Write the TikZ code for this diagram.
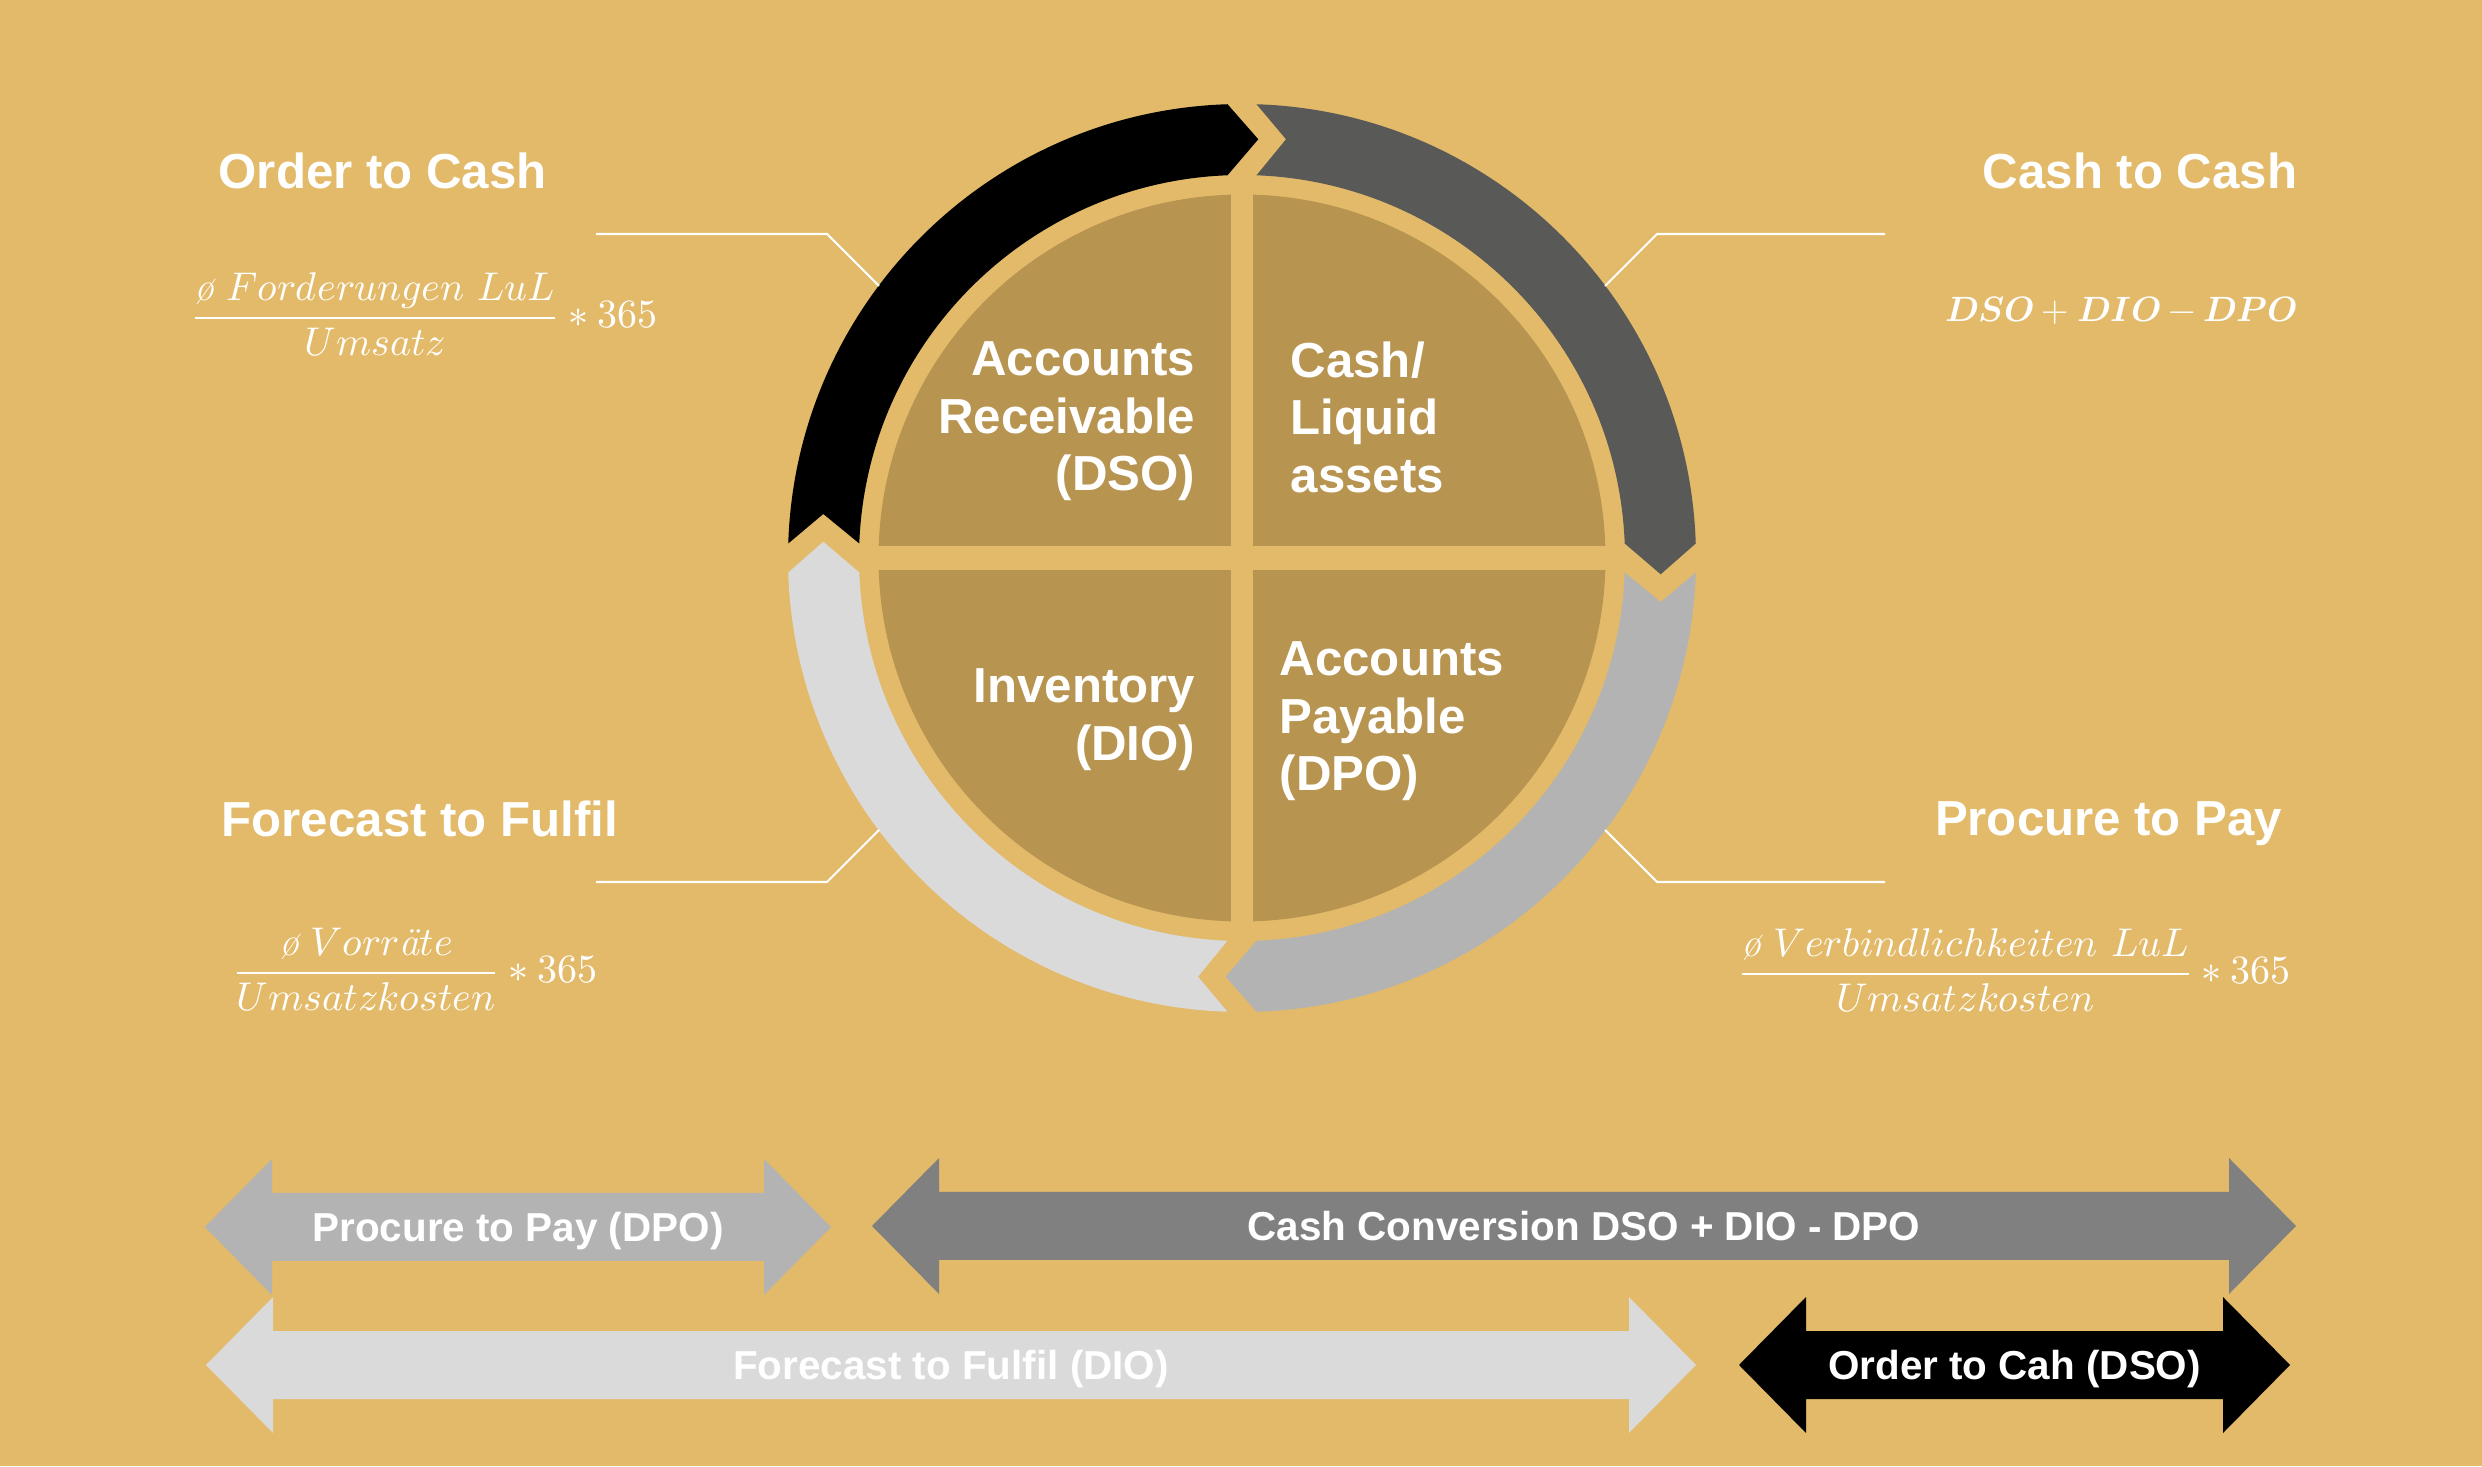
\documentclass[tikz,border=0pt]{standalone}
\usepackage{amsmath}
\usepackage{unicode-math}
\setmathfont{Latin Modern Math}
\newfontfamily\headfont{Liberation Sans}

\definecolor{goldbg}{HTML}{E2BA69}
\definecolor{discbrown}{HTML}{B89451}
\definecolor{darkgrey}{HTML}{595957}
\definecolor{midgrey}{HTML}{B3B3B3}
\definecolor{lightgrey}{HTML}{DADADA}
\definecolor{convgrey}{HTML}{808080}

\tikzset{
	headtitle/.style={font=\headfont\bfseries\fontsize{14}{16.4}\selectfont, text=white, inner sep=0pt},
	quadlabel/.style={font=\headfont\bfseries\fontsize{14}{16.4}\selectfont, text=white, inner sep=0pt},
	formula/.style={font=\fontsize{11.4}{14}\selectfont, text=white, inner sep=0pt},
	barlabel/.style={font=\headfont\bfseries\fontsize{11.5}{13}\selectfont, text=white, inner sep=0pt, anchor=base},
	leader/.style={white, line width=0.6pt}
}

% one piece of the ring, drawn for the left-to-top quarter and turned
\newcommand{\ringarrow}[2]{%
	\fill[#2, rotate=#1] (178.17:4.54) arc[start angle=178.17, end angle=91.83, radius=4.54]
		-- (0.163,4.187) -- (92.17:3.83) arc[start angle=92.17, end angle=177.83, radius=3.83]
		-- (-4.187,0.44) -- cycle;}
% double headed bar: left tip, right tip, middle y, colour
\newcommand{\dblarrow}[4]{%
	\fill[#4] (#1,#3) -- ({#1+0.67},{#3+0.68}) -- ({#1+0.67},{#3+0.34}) -- ({#2-0.67},{#3+0.34})
		-- ({#2-0.67},{#3+0.68}) -- (#2,#3) -- ({#2-0.67},{#3-0.68}) -- ({#2-0.67},{#3-0.34})
		-- ({#1+0.67},{#3-0.34}) -- ({#1+0.67},{#3-0.68}) -- cycle;}

\begin{document}
\begin{tikzpicture}
	\fill[goldbg] (0,0) rectangle (24.82,14.66);
	\coordinate (cen) at (12.42,9.08);

	% cycle
	\begin{scope}[shift={(cen)}]
		\ringarrow{0}{black}
		\ringarrow{-90}{darkgrey}
		\ringarrow{-180}{midgrey}
		\ringarrow{-270}{lightgrey}
		\fill[discbrown] (0,0) circle (3.635);
		\fill[goldbg] (-0.11,-3.7) rectangle (0.11,3.7);
		\fill[goldbg] (-3.7,-0.117) rectangle (3.7,0.117);
	\end{scope}

	\node[quadlabel, align=right, anchor=north east] (recv) at (11.96,11.25) {Accounts\\Receivable\\(DSO)};
	\node[quadlabel, align=left, anchor=north west] (cash) at (12.90,11.25) {Cash/\\Liquid\\assets};
	\node[quadlabel, align=right, anchor=north east] (inv) at (11.96,7.98) {Inventory\\(DIO)};
	\node[quadlabel, align=left, anchor=north west] (pay) at (12.79,8.25) {Accounts\\Payable\\(DPO)};

	% corner titles and formulas
	\node[headtitle, anchor=base west] (otc) at (2.18,12.77) {Order to Cash};
	\node[headtitle, anchor=base east] (ctc) at (22.98,12.77) {Cash to Cash};
	\node[headtitle, anchor=base west] (ftf) at (2.21,6.29) {Forecast to Fulfil};
	\node[headtitle, anchor=base east] (ptp) at (22.83,6.30) {Procure to Pay};

	\node[formula, anchor=base west] (otcfrm) at (1.90,11.38) {$\dfrac{\text{\itshape ø}\;Forderungen\ LuL}{Umsatz}\ast 365$};
	\node[formula, font=\fontsize{10}{12}\selectfont, anchor=base east] (ctcfrm) at (22.98,11.44) {$\symbfit{DSO+DIO-DPO}$};
	\node[formula, anchor=base west] (ftffrm) at (2.32,4.83) {$\dfrac{\text{\itshape ø}\;Vorr\text{\itshape ä}te}{Umsatzkosten}\ast 365$};
	\node[formula, anchor=base west] (ptpfrm) at (17.37,4.82) {$\dfrac{\text{\itshape ø}\;Verbindlichkeiten\ LuL}{Umsatzkosten}\ast 365$};

	% leader lines
	\coordinate (tl1) at (5.96,12.32);
	\coordinate (tl2) at (8.27,12.32);
	\coordinate (tl3) at (8.79,11.80);
	\coordinate (tr1) at (18.85,12.32);
	\coordinate (tr2) at (16.57,12.32);
	\coordinate (tr3) at (16.05,11.80);
	\coordinate (bl1) at (5.96,5.84);
	\coordinate (bl2) at (8.27,5.84);
	\coordinate (bl3) at (8.79,6.36);
	\coordinate (br1) at (18.85,5.84);
	\coordinate (br2) at (16.57,5.84);
	\coordinate (br3) at (16.05,6.36);
	\draw[leader] (tl1) -- (tl2) -- (tl3);
	\draw[leader] (tr1) -- (tr2) -- (tr3);
	\draw[leader] (bl1) -- (bl2) -- (bl3);
	\draw[leader] (br1) -- (br2) -- (br3);

	% time bars
	\dblarrow{2.05}{8.31}{2.39}{midgrey}
	\dblarrow{8.72}{22.96}{2.40}{convgrey}
	\dblarrow{2.06}{16.96}{1.01}{lightgrey}
	\dblarrow{17.39}{22.90}{1.01}{black}
	\node[barlabel] (dpo) at (5.18,2.245) {Procure to Pay (DPO)};
	\node[barlabel] (ccc) at (15.84,2.255) {Cash Conversion DSO + DIO - DPO};
	\node[barlabel] (dio) at (9.51,0.865) {Forecast to Fulfil (DIO)};
	\node[barlabel] (dso) at (20.145,0.865) {Order to Cah (DSO)};
\end{tikzpicture}
\end{document}
